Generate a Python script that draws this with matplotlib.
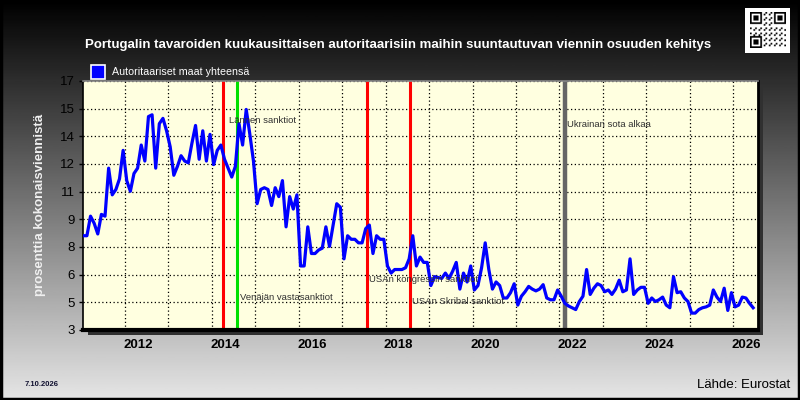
import numpy as np
import matplotlib.pyplot as plt
from matplotlib.patches import Rectangle

plt.rcParams['font.family'] = ['Liberation Sans', 'DejaVu Sans']

title = "Portugalin tavaroiden kuukausittaisen autoritaarisiin maihin suuntautuvan viennin osuuden kehitys"
series_name = "Autoritaariset maat yhteensä"
y_title = "prosenttia kokonaisviennistä"
start_year = 2011

# monthly share (%), Jan 2011 .. Jun 2026
share = [
    8.3, 8.3, 9.4, 9.0, 8.4, 9.5, 9.4, 12.1, 10.6, 10.9, 11.5, 13.1,      # 2011
    11.4, 10.8, 11.8, 12.1, 13.4, 12.5, 15.0, 15.1, 12.1, 14.6, 14.9, 14.2,  # 2012
    13.3, 11.7, 12.2, 12.8, 12.5, 12.4, 13.5, 14.5, 12.6, 14.2, 12.5, 14.0,  # 2013
    12.3, 13.1, 13.4, 12.6, 12.1, 11.6, 12.2, 14.6, 13.4, 15.4, 14.0, 12.5,  # 2014
    10.1, 10.9, 11.0, 10.9, 10.0, 11.0, 10.5, 11.4, 8.8, 10.5, 9.8, 10.6,    # 2015
    6.6, 6.6, 8.8, 7.3, 7.3, 7.5, 7.6, 8.8, 7.7, 8.9, 10.1, 9.9,             # 2016
    7.0, 8.3, 8.1, 8.1, 7.9, 7.9, 8.7, 8.9, 7.3, 8.3, 8.1, 8.1,              # 2017
    6.6, 6.2, 6.4, 6.4, 6.4, 6.5, 7.0, 8.3, 6.6, 7.1, 6.8, 6.8,              # 2018
    5.5, 6.0, 5.95, 5.9, 6.2, 5.9, 6.3, 6.8, 5.3, 6.2, 5.7, 6.6,             # 2019
    5.25, 5.5, 6.5, 7.9, 6.4, 5.3, 5.7, 5.5, 4.8, 4.8, 5.1, 5.6,             # 2020
    4.4, 4.9, 5.15, 5.45, 5.3, 5.2, 5.3, 5.55, 4.8, 4.7, 4.7, 5.25,          # 2021
    4.9, 4.5, 4.35, 4.25, 4.15, 4.6, 4.9, 6.4, 5.0, 5.35, 5.6, 5.5,          # 2022
    5.15, 5.25, 5.0, 5.3, 5.8, 5.15, 5.25, 7.0, 5.0, 5.25, 5.4, 5.4,         # 2023
    4.5, 4.8, 4.6, 4.7, 4.85, 4.4, 4.25, 6.0, 5.1, 5.15, 4.8, 4.6,           # 2024
    3.95, 3.95, 4.15, 4.25, 4.3, 4.4, 5.25, 4.85, 4.6, 5.35, 4.1, 5.1,       # 2025
    4.3, 4.4, 4.85, 4.8, 4.5, 4.25,                                          # 2026
]

# events (decimal year) and their labels
event_dates = [2014.25, 2014.585, 2017.57, 2018.56, 2022.125]
event_labels = ["Lännen sanktiot", "Venäjän vastasanktiot", "USAn kongressin sanktiot",
                "USAn Skribal sanktiot", "Ukrainan sota alkaa"]
event_colors = ["#ff0000", "#00e000", "#ff0000", "#ff0000", "#666666"]
label_y = [14.8, 4.85, 5.85, 4.6, 14.55]
label_dx = [6.5, 2.5, 2.5, 2.5, 2.5]

x = start_year + (np.arange(len(share)) + 0.5) / 12

W, H = 800, 400
fig = plt.figure(figsize=(8, 4), dpi=100)

# gradient background
bg = fig.add_axes([0, 0, 1, 1])
grad = np.linspace(0.0, 0.90, 256).reshape(-1, 1)
bg.imshow(grad, cmap='gray', vmin=0, vmax=1, aspect='auto', extent=[0, 1, 0, 1], origin='upper')
bg.set_xlim(0, 1)
bg.set_ylim(0, 1)
bg.axis('off')
bg.add_patch(Rectangle((0.001, 0.002), 0.998, 0.996, fill=False, ec='black', lw=2.5, transform=bg.transAxes))

left, right, top, bottom = 83, 758, 81, 330
# drop shadow
bg.add_patch(Rectangle(((left + 5) / W, 1 - (bottom + 5) / H), (right - left) / W, (bottom - top) / H,
                       fc='#303030', ec='none', transform=bg.transAxes))

ax = fig.add_axes([left / W, 1 - bottom / H, (right - left) / W, (bottom - top) / H])
ax.set_facecolor('#ffffe0')
ax.plot(x, share, color='#0000ff', lw=2.3, zorder=3, solid_joinstyle='round')

for d, lab, c, ly, dx in zip(event_dates, event_labels, event_colors, label_y, label_dx):
    ax.axvline(d, color=c, lw=3.2 if c == '#666666' else 2.2, zorder=2)
    ax.annotate(lab, (d, ly), xytext=(dx * 0.72, 0), textcoords='offset points',
                fontsize=6.8, color='#303030', va='center', ha='left', zorder=4)

ax.set_xlim(2011.035, 2026.57)
ax.set_ylim(3, 17)
yt = np.linspace(3, 17, 10)
ax.set_yticks(yt)
ax.set_yticklabels([f"{v:.0f}" for v in yt], fontsize=9.5)
ax.set_xticks(np.arange(2012, 2027))
ax.set_xticklabels([])
ax.tick_params(axis='x', length=0)
ax.tick_params(axis='y', length=3, width=1, pad=3)
ax.grid(True, color='black', linestyle=(0, (1, 2)), lw=0.9, zorder=1)

for yr in range(2012, 2027, 2):
    ax.text(yr + 0.3, -0.035, str(yr), transform=ax.get_xaxis_transform(),
            ha='center', va='top', fontsize=9.5, fontweight='bold')

for s in ['left', 'top']:
    ax.spines[s].set_linewidth(1.2)
ax.spines['top'].set_color('#888888')
ax.spines['bottom'].set_linewidth(3)
ax.spines['right'].set_linewidth(2)

fig.text(398 / W, 1 - 45 / H, title, color='white', fontsize=9.5, fontweight='bold', ha='center', va='center')
fig.text(40 / W, 1 - 205 / H, y_title, color='#f0f0f0', fontsize=9.5, fontweight='bold',
         rotation=90, ha='center', va='center')

# legend
bg.add_patch(Rectangle((91 / W, 1 - 79 / H), 14 / W, 14 / H, fc='#0000ff', ec='white', lw=1.2,
                       transform=bg.transAxes))
fig.text(112 / W, 1 - 72 / H, series_name, color='white', fontsize=7.7, ha='left', va='center')

fig.text(25 / W, 1 - 384 / H, "7.10.2026", color='#101030', fontsize=5.5, fontweight='bold',
         ha='left', va='center')
fig.text(790 / W, 1 - 385 / H, "Lähde: Eurostat", color='black', fontsize=9.5, ha='right', va='center')

# QR-style mark
qr = fig.add_axes([745 / W, 1 - 55 / H, 45 / W, 50 / H])
n = 21
ii, jj = np.meshgrid(np.arange(n), np.arange(n))
mods = ((ii * jj + ii + 2 * jj) % 3 == 0).astype(float)
for (r0, c0) in [(0, 0), (0, n - 7), (n - 7, 0)]:
    mods[r0:r0 + 8 if r0 == 0 else r0 + 7, c0:c0 + 8 if c0 == 0 else c0 + 7] = 0
    mods[r0:r0 + 7, c0:c0 + 7] = 1
    mods[r0 + 1:r0 + 6, c0 + 1:c0 + 6] = 0
    mods[r0 + 2:r0 + 5, c0 + 2:c0 + 5] = 1
qr.imshow(1 - mods, cmap='gray', vmin=0, vmax=1, extent=[0.1, 0.9, 0.1, 0.9])
qr.set_xlim(0, 1)
qr.set_ylim(0, 1)
qr.set_facecolor('white')
qr.set_xticks([])
qr.set_yticks([])
for s in qr.spines.values():
    s.set_visible(False)

fig.savefig('out.png', dpi=100)
